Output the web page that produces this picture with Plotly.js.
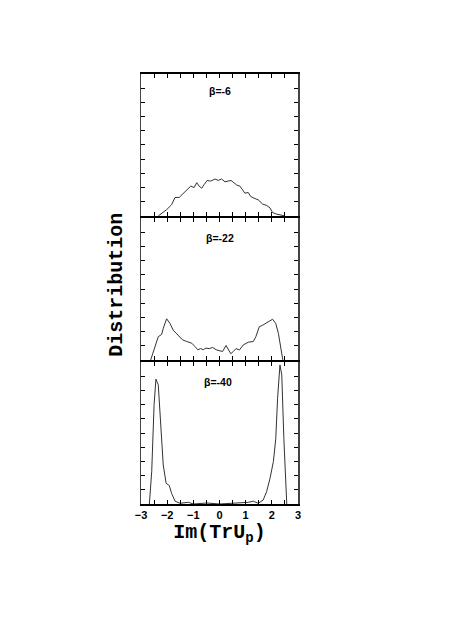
<!DOCTYPE html>
<html><head><meta charset="utf-8">
<script src="https://cdn.plot.ly/plotly-3.0.1.min.js"></script>
<style>html,body{margin:0;padding:0;background:#fff}</style>
</head><body><div id="chart" style="width:471px;height:617px"></div>
<script>
// beta = -6
const x6 = [-2.34,-2.02,-1.83,-1.70,-1.54,-1.38,-1.25,-1.10,-0.97,-0.87,-0.78,-0.68,-0.59,-0.47,-0.34,-0.17,-0.05,0.08,0.21,0.34,0.44,0.55,0.66,0.78,0.89,0.97,1.10,1.19,1.32,1.48,1.65,1.80,1.93,2.03,2.19,2.38,2.50];
const y6 = [0,0.044,0.079,0.13,0.13,0.16,0.187,0.21,0.20,0.234,0.21,0.195,0.22,0.25,0.245,0.26,0.25,0.26,0.24,0.245,0.25,0.234,0.217,0.21,0.183,0.16,0.165,0.137,0.125,0.113,0.083,0.074,0.056,0.023,0.012,0.005,0];
// beta = -22
const x22 = [-2.63,-2.50,-2.34,-2.21,-2.15,-2.02,-1.89,-1.77,-1.64,-1.54,-1.41,-1.25,-1.06,-0.94,-0.83,-0.72,-0.62,-0.52,-0.39,-0.26,-0.13,-0.01,0.12,0.25,0.34,0.43,0.53,0.63,0.76,0.91,1.10,1.29,1.39,1.52,1.65,1.78,1.90,2.03,2.15,2.25,2.34,2.42];
const y22 = [0,0.072,0.164,0.18,0.222,0.29,0.257,0.21,0.1875,0.164,0.141,0.13,0.118,0.095,0.072,0.08,0.072,0.083,0.08,0.088,0.072,0.065,0.06,0.102,0.072,0.044,0.06,0.08,0.07,0.106,0.125,0.13,0.164,0.234,0.245,0.257,0.273,0.287,0.257,0.1875,0.083,0];
// beta = -40
const x40 = [-2.68,-2.59,-2.50,-2.43,-2.34,-2.25,-2.15,-2.04,-1.92,-1.83,-1.70,-1.51,-1.19,-1.00,-0.49,0.00,0.50,1.10,1.29,1.48,1.67,1.80,1.93,2.06,2.15,2.22,2.31,2.38,2.46,2.57];
const y40 = [0,0.23,0.70,0.88,0.84,0.58,0.275,0.146,0.13,0.075,0.02,0.005,0.012,0,0.007,0,0.005,0.012,0.02,0.005,0.028,0.087,0.18,0.30,0.46,0.745,0.98,0.91,0.46,0];
const labels = ['β=-6','β=-22','β=-40'];
const xTickVals = [-3,-2,-1,0,1,2,3];
const xTickText = ['−3','−2','−1','0','1','2','3'];

const lineStyle = {color:'#333', width:1};
const traces = [
  {x:x6, y:y6, xaxis:'x3', yaxis:'y3', mode:'lines', line:lineStyle, hoverinfo:'skip'},
  {x:x22, y:y22, xaxis:'x2', yaxis:'y2', mode:'lines', line:lineStyle, hoverinfo:'skip'},
  {x:x40, y:y40, xaxis:'x', yaxis:'y', mode:'lines', line:lineStyle, hoverinfo:'skip'}
];

const monoFont = '"Courier New", "Liberation Mono", monospace';
function xax(anchor, showLabels){
  return {anchor:anchor, range:[-3,3], tickvals:xTickVals, ticktext:xTickText,
    showticklabels:showLabels, ticks:'inside', ticklen:4, tickwidth:1, tickcolor:'#000',
    minor:{dtick:0.5, tick0:0, ticks:'inside', ticklen:4, tickcolor:'#000', showgrid:false},
    showline:true, linecolor:'#000', linewidth:2, mirror:'ticks', showgrid:false, zeroline:false,
    tickfont:{family:'Liberation Sans', size:11, color:'#000', weight:'bold'}};
}
function yax(domain, range){
  return {domain:domain, range:range, dtick:0.1, tick0:0, showticklabels:false,
    ticks:'inside', ticklen:4, tickcolor:'#000', showline:true, linecolor:'#444', linewidth:1.5,
    mirror:'ticks', showgrid:false, zeroline:false};
}
const betaFont = {family:'Liberation Sans', size:10.5, color:'#000', weight:'bold'};

const layout = {
  width:471, height:617, paper_bgcolor:'#fff', plot_bgcolor:'#fff', showlegend:false,
  margin:{l:141, r:173, t:74, b:113},
  xaxis: Object.assign(xax('y', true), {title:{text:'Im(TrU<sub>p</sub>)', font:{family:monoFont, size:20, color:'#000', weight:'bold'}, standoff:2}}),
  xaxis2: xax('y2', false),
  xaxis3: xax('y3', false),
  yaxis: yax([0, 0.33], [0, 1]),
  yaxis2: yax([0.335, 0.665], [0, 1]),
  yaxis3: yax([0.67, 1], [0, 1]),
  annotations: [
    {text:labels[0], xref:'x3', yref:'y3 domain', x:0, y:0.94, showarrow:false, font:betaFont},
    {text:labels[1], xref:'x2', yref:'y2 domain', x:0, y:0.915, showarrow:false, font:betaFont},
    {text:labels[2], xref:'x', yref:'y domain', x:-0.05, y:0.915, showarrow:false, font:betaFont},
    {text:'Distribution', xref:'paper', yref:'paper', x:-0.153, y:0.51, textangle:-90, xanchor:'center', yanchor:'middle', showarrow:false, font:{family:monoFont, size:20, color:'#000', weight:'bold'}}
  ]
};
Plotly.newPlot('chart', traces, layout, {staticPlot:true, displayModeBar:false});
</script></body></html>
